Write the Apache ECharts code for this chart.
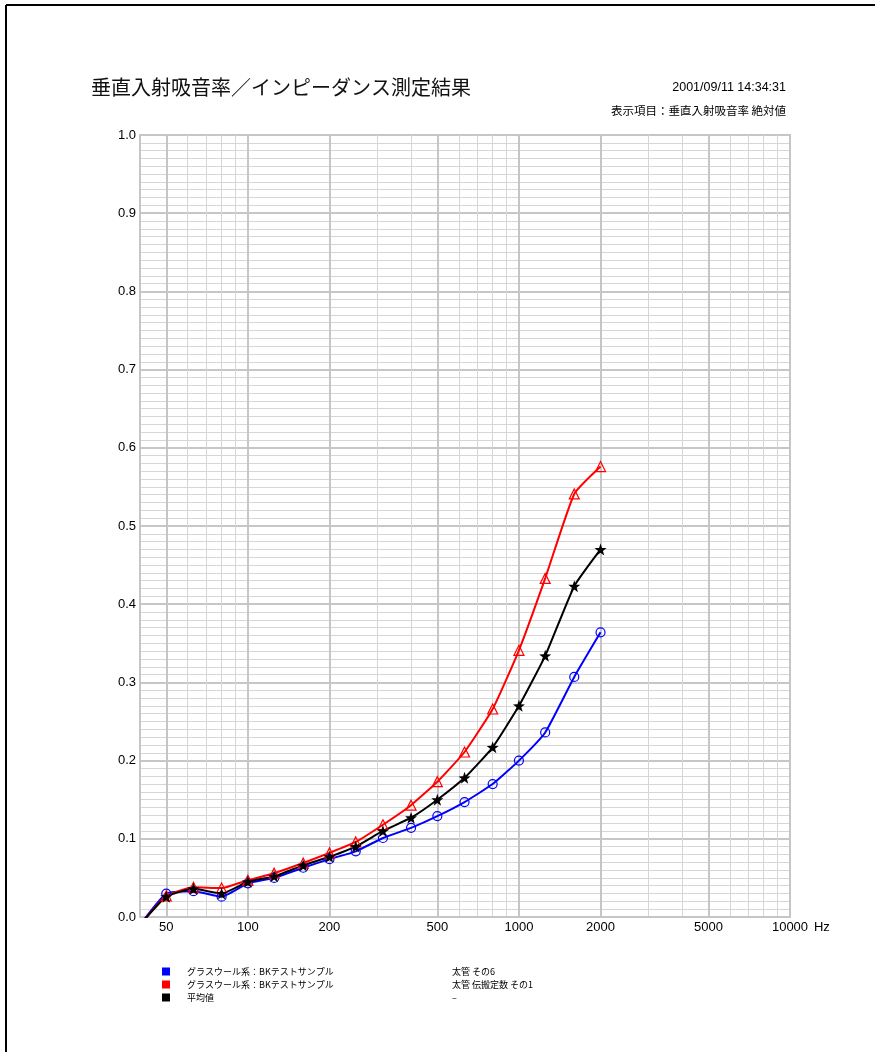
<!DOCTYPE html>
<html><head><meta charset="utf-8">
<script src="https://cdn.jsdelivr.net/npm/echarts@6/dist/echarts.min.js"></script>
<style>html,body{margin:0;padding:0;background:#fff}#c{width:875px;height:1052px}</style>
</head><body><div id="c"></div>
<script>
// ---- data ----
const freqs = [40,50,63,80,100,125,160,200,250,315,400,500,630,800,1000,1250,1600,2000];
const blueValues  = [-0.01,0.030,0.033,0.026,0.043,0.050,0.063,0.074,0.084,0.101,0.114,0.129,0.147,0.170,0.200,0.236,0.307,0.364];
const redValues   = [-0.01,0.027,0.038,0.037,0.047,0.056,0.069,0.082,0.096,0.118,0.143,0.173,0.211,0.266,0.341,0.433,0.541,0.576];
const blackValues = [-0.01,0.026,0.036,0.030,0.045,0.052,0.066,0.077,0.090,0.110,0.127,0.150,0.178,0.217,0.270,0.334,0.423,0.470];
const xLabelTicks = [50,100,200,500,1000,2000,5000,10000];
const xGridTicks = [40,50,60,70,80,90,100,200,300,400,500,600,700,800,900,1000,2000,3000,4000,5000,6000,7000,8000,9000,10000];
const seriesNames = ['試料1','試料2','平均値'];
const legendMaterials = ['グラスウール系：BKテストサンプル','グラスウール系：BKテストサンプル','平均値'];
const legendConditions = ['太管 その6','太管 伝搬定数 その1','–'];
const titleText = '垂直入射吸音率／インピーダンス測定結果';
const dateText = '2001/09/11 14:34:31';
const subText = '表示項目：垂直入射吸音率 絶対値';

const colors = ['#0000ff','#ff0000','#000000'];
const starPath = 'path://M0,-10 L2.35,-3.24 L9.51,-3.09 L3.8,1.24 L5.88,8.09 L0,4 L-5.88,8.09 L-3.8,1.24 L-9.51,-3.09 L-2.35,-3.24 Z';
const pairs = v => freqs.map((f,i)=>[f, v[i]]);
const thin = '#d6d6d6', thick = '#c6c6c6';
const jp = '"Noto Sans CJK JP", sans-serif';
const lat = '"Liberation Sans", sans-serif';

const chart = echarts.init(document.getElementById('c'), null, {renderer:'canvas'});
chart.setOption({
  backgroundColor:'#fff',
  animation:false,
  title:{text:titleText, left:91, top:77, padding:0,
    textStyle:{fontSize:20, fontWeight:'normal', color:'#111', fontFamily:jp}},
  graphic:[
    {type:'line', silent:true, shape:{x1:6,y1:5,x2:875,y2:5}, style:{stroke:'#000', lineWidth:2}},
    {type:'line', silent:true, shape:{x1:6,y1:5,x2:6,y2:1052}, style:{stroke:'#000', lineWidth:2}},
    {type:'text', right:89, top:81, style:{text:dateText, font:'12.5px "Liberation Sans", sans-serif', fill:'#000'}},
    {type:'text', right:89, top:105, style:{text:subText, font:'11.5px "Noto Sans CJK JP", sans-serif', fill:'#000'}}
  ],
  grid:{left:140, right:85, top:135, bottom:135, show:true, borderColor:thick, borderWidth:2, backgroundColor:'transparent'},
  xAxis:[
    {type:'log', logBase:10, min:40, max:10000, position:'bottom',
      axisLine:{show:false}, axisTick:{show:false, customValues:xGridTicks},
      axisLabel:{show:false}, splitLine:{show:true, lineStyle:{color:thin, width:1}}},
    {type:'log', logBase:10, min:40, max:10000, position:'bottom',
      axisLine:{show:true, onZero:false, lineStyle:{color:thick, width:2}},
      axisTick:{show:false, customValues:xLabelTicks},
      axisLabel:{customValues:xLabelTicks, color:'#000', fontSize:13, margin:4, fontFamily:lat, formatter:v=>String(Math.round(v))},
      splitLine:{show:true, lineStyle:{color:thick, width:2}},
      name:'Hz', nameLocation:'end', nameGap:18,
      nameTextStyle:{color:'#000', fontSize:13, fontFamily:lat, verticalAlign:'top', padding:[4,0,0,0]}}
  ],
  yAxis:{type:'value', min:0, max:1, interval:0.1,
    axisLine:{show:true, lineStyle:{color:thick, width:2}}, axisTick:{show:false},
    axisLabel:{color:'#000', fontSize:13, margin:4, fontFamily:lat, formatter:v=>v.toFixed(1)},
    splitLine:{show:true, lineStyle:{color:thick, width:2}},
    minorTick:{show:false, splitNumber:10},
    minorSplitLine:{show:true, lineStyle:{color:thin, width:1}}},
  legend:{orient:'vertical', left:157, top:962, itemWidth:8, itemHeight:8, itemGap:4, icon:'rect', selectedMode:false,
    data:seriesNames.map((n,i)=>({name:n, itemStyle:{color:colors[i], borderWidth:0}})),
    formatter:name=>{const i=seriesNames.indexOf(name); return '{a|'+legendMaterials[i]+'}{b|'+legendConditions[i]+'}';},
    textStyle:{fontSize:9, color:'#000', fontFamily:jp,
      rich:{a:{width:265, padding:[0,0,0,12], fontSize:9, fontFamily:jp}, b:{fontSize:9, fontFamily:jp}}}},
  series:[
    {name:seriesNames[0], type:'line', xAxisIndex:1, data:pairs(blueValues), smooth:0.15, clip:true,
      symbol:'circle', symbolSize:9, lineStyle:{color:colors[0], width:2},
      itemStyle:{color:'rgba(255,255,255,0)', borderColor:colors[0], borderWidth:1.2}},
    {name:seriesNames[1], type:'line', xAxisIndex:1, data:pairs(redValues), smooth:0.15, clip:true,
      symbol:'triangle', symbolSize:10, lineStyle:{color:colors[1], width:2},
      itemStyle:{color:'rgba(255,255,255,0)', borderColor:colors[1], borderWidth:1.2}},
    {name:seriesNames[2], type:'line', xAxisIndex:1, data:pairs(blackValues), smooth:0.15, clip:true,
      symbol:starPath, symbolSize:12, lineStyle:{color:colors[2], width:2}, itemStyle:{color:colors[2]}}
  ]
});
</script></body></html>
